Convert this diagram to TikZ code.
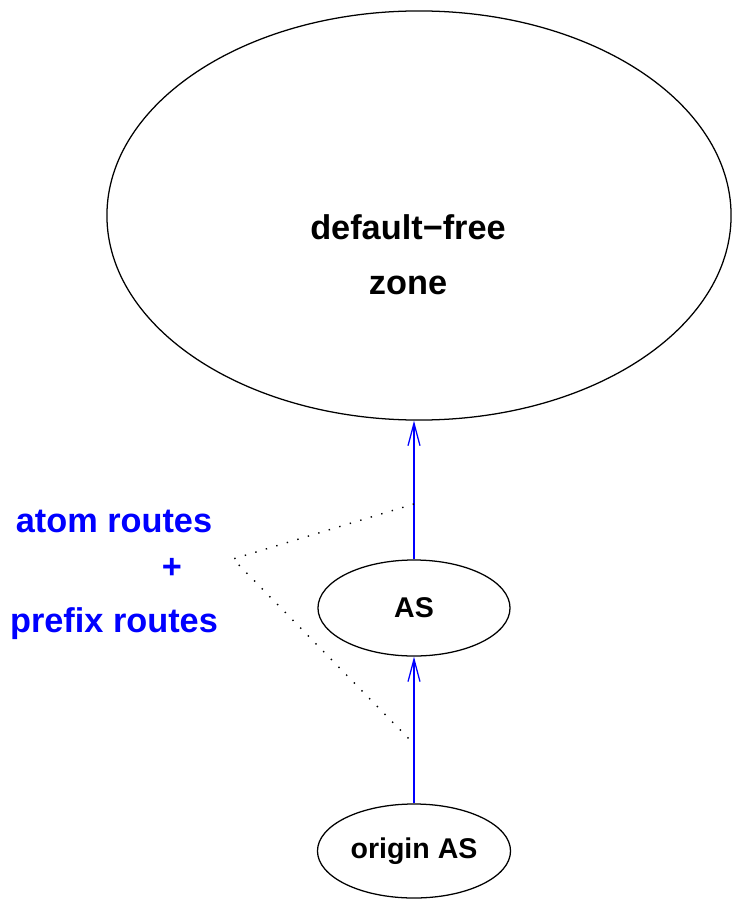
\documentclass[tikz,border=0pt]{standalone}
\usepackage{fontspec}
\setmainfont{Liberation Sans}
\usetikzlibrary{shapes.geometric,arrows.meta}

\begin{document}
\begin{tikzpicture}[x=0.025cm, y=-0.025cm,
  zonebox/.style={ellipse, draw, line width=0.9pt, inner sep=0pt, minimum width=15.6cm, minimum height=10.225cm},
  asbox/.style={ellipse, draw, line width=0.9pt, inner sep=0pt, minimum width=4.8cm, minimum height=2.4cm,
    font=\fontsize{20.3}{24}\selectfont\bfseries},
  bigtext/.style={inner sep=0pt, align=center, font=\fontsize{24.4}{39}\selectfont\bfseries},
  bluetext/.style={inner sep=0pt, anchor=base, text=blue, font=\fontsize{24.4}{39}\selectfont\bfseries},
  route/.style={draw=blue, line width=0.9pt, -{Straight Barb[length=16pt,width=8.5pt]}},
  dotline/.style={line width=1pt, dash pattern=on 1pt off 6.8pt}]
  \useasboundingbox (0,0) rectangle (731,899);
  \node (zone) [zonebox] at (419,215.5) {};
  \node (zonetext) [bigtext] at (408,254.5) {default−free\\zone};
  \node (as) [asbox] at (414,608) {AS};
  \node (origin) [asbox, minimum width=4.825cm, minimum height=2.35cm] at (414,851) {origin AS};
  \node (atom) [bluetext] at (114,532) {atom routes};
  \node (plus) [bluetext] at (172,578) {+};
  \node (prefix) [bluetext] at (114,632) {prefix routes};
  \coordinate (dtop) at (414,504);
  \coordinate (dtip) at (233,559);
  \coordinate (dbot) at (415,745);
  \draw [route] (as.north) -- (as.north |- zone.south);
  \draw [route] (origin.north) -- (as.south);
  \draw [dotline] (dtop) -- (dtip) -- (dbot);
\end{tikzpicture}
\end{document}
